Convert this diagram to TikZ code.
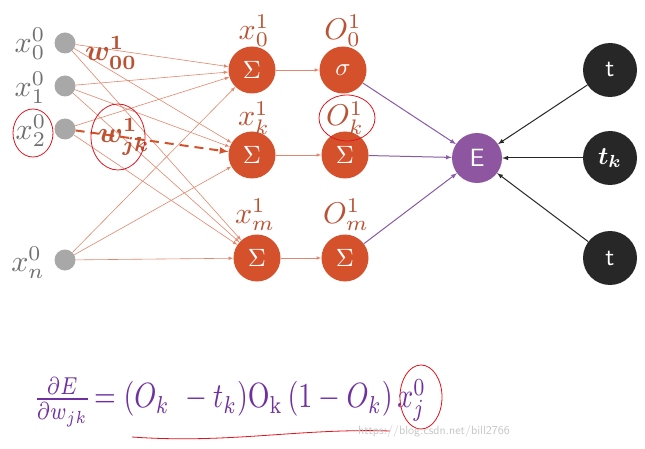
\documentclass[tikz,border=0pt]{standalone}
\usepackage{amsmath}
\usetikzlibrary{shapes,arrows,positioning}

\definecolor{inpgray}{HTML}{A8A8A8}
\definecolor{labgray}{HTML}{707070}
\definecolor{sumred}{HTML}{D4512C}
\definecolor{labred}{HTML}{BA5233}
\definecolor{feedred}{HTML}{E2876E}
\definecolor{errpurple}{HTML}{8E55A0}
\definecolor{linkpurple}{HTML}{8A5AA6}
\definecolor{tdark}{HTML}{272727}
\definecolor{formpurple}{HTML}{7030A0}
\definecolor{penred}{HTML}{E0141E}

\begin{document}
\begin{tikzpicture}[x=1pt, y=-1pt,
    inp/.style={circle, fill=inpgray, minimum size=21pt, inner sep=0pt},
    neuron/.style={circle, fill=sumred, minimum size=47pt, inner sep=0pt, text=white},
    errnode/.style={circle, fill=errpurple, minimum size=50pt, inner sep=0pt, text=white, font=\sffamily},
    target/.style={circle, fill=tdark, minimum size=54pt, inner sep=0pt, text=white, font=\sffamily},
    big/.style={scale=2.5},
    inlab/.style={text=labgray, scale=3},
    outlab/.style={text=labred, scale=3},
    wlab/.style={text=labred, scale=2.9, font=\boldmath},
    feed/.style={draw=feedred, line width=0.6pt, -latex},
    link/.style={draw=linkpurple, line width=1pt, -latex},
    pen/.style={draw=penred, line width=0.8pt}
]
    \fill[white] (0,0) rectangle (645,449);
    \useasboundingbox (0,0) rectangle (645,449);

    % input layer
    \node[inp] (in0) at (65,43) {};
    \node[inp] (in1) at (65,86) {};
    \node[inp] (in2) at (65,129) {};
    \node[inp] (inn) at (65,260) {};
    \node[inlab] (lx0) at (30,44) {$x_0^0$};
    \node[inlab] (lx1) at (30,88) {$x_1^0$};
    \node[inlab] (lx2) at (31,131) {$x_2^0$};
    \node[inlab] (lxn) at (28,263) {$x_n^0$};

    % hidden sums and outputs
    \node[neuron] (s0) at (252,70) {};
    \node[neuron] (sk) at (252,155) {};
    \node[neuron] (sm) at (257,258) {};
    \node[neuron] (o0) at (343,70) {};
    \node[neuron] (ok) at (345,155) {};
    \node[neuron] (om) at (345,258) {};
    \foreach \n in {s0,sk,sm,ok,om} {
        \node[big, text=white] at (\n) {$\Sigma$};
    }
    \node[big, text=white] at (o0) {$\sigma$};
    \node[outlab] (lxs0) at (254,31) {$x_0^1$};
    \node[outlab] (lxsk) at (254,118) {$x_k^1$};
    \node[outlab] (lxsm) at (255,215) {$x_m^1$};
    \node[outlab] (lo0) at (343,31) {$O_0^1$};
    \node[outlab] (lok) at (345,118) {$O_k^1$};
    \node[outlab] (lom) at (346,215) {$O_m^1$};

    % error and targets
    \node[errnode] (err) at (477,158) {};
    \node[target] (t0) at (610,70) {};
    \node[target] (tk) at (610,158) {};
    \node[target] (tm) at (610,258) {};
    \node[big, text=white, font=\sffamily] at (err) {E};
    \node[big, text=white, font=\sffamily] at (t0) {t};
    \node[big, text=white, font=\boldmath] at (tk) {$t_k$};
    \node[big, text=white, font=\sffamily] at (tm) {t};

    % weights into the hidden layer
    \foreach \i in {in0,in1,inn} {
        \foreach \j in {s0,sk,sm} {
            \draw[feed] (\i) -- (\j);
        }
    }
    \draw[feed] (in2) -- (s0);
    \draw[feed] (in2) -- (sm);
    \draw[draw=sumred, line width=2pt, dash pattern=on 9pt off 6pt, -latex] (in2) -- (sk);

    \node[wlab] (w00) at (111,53) {$w_{00}^1$};
    \node[wlab] (wjk) at (124,137) {$w_{jk}^1$};

    \draw[feed] (s0) -- (o0);
    \draw[feed] (sk) -- (ok);
    \draw[feed] (sm) -- (om);

    \foreach \j in {o0,ok,om} {
        \draw[link] (\j) -- (err);
    }
    \foreach \j in {t0,tk,tm} {
        \draw[draw=tdark, line width=1pt, -latex] (\j) -- (err);
    }

    % formula
    \node[anchor=west, text=formpurple, xscale=2.8, yscale=3.5, inner sep=0pt] (grad) at (33,402)
        {$\frac{\partial E}{\partial w_{jk}}\!=(O_k\ -t_k)\mathrm{O_k}\,(1-O_k)\,x_j^0$};

    % hand marks
    \draw[pen] (33,133) ellipse [x radius=20pt, y radius=24pt];
    \draw[pen] (118,137) ellipse [x radius=27pt, y radius=33pt];
    \draw[pen] (347,118) ellipse [x radius=28pt, y radius=23pt];
    \draw[pen] (421,397) ellipse [x radius=21pt, y radius=32pt];
    \draw[pen] (132,437) .. controls (230,444) and (300,428) .. (390,431);
    \node[text=gray!45, font=\sffamily, scale=1.2] (mark) at (434,431) {https://blog.csdn.net/bill2766};
\end{tikzpicture}
\end{document}
